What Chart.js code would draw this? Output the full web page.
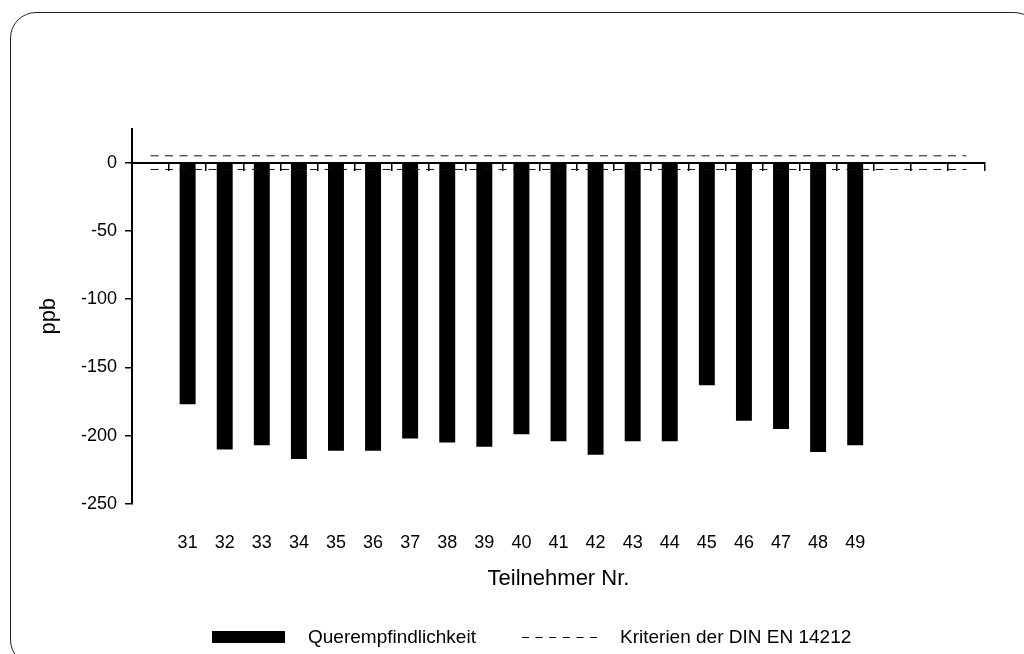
<!DOCTYPE html>
<html>
<head>
<meta charset="utf-8">
<script src="https://cdn.jsdelivr.net/npm/chart.js@4"></script>
<style>
  html, body { margin: 0; padding: 0; background: #fff; overflow: hidden; }
  #wrap { position: relative; width: 1024px; height: 654px; overflow: hidden; }
  #frame { position: absolute; left: 10px; top: 12px; width: 1030px; height: 654px;
           border: 1.5px solid #222; border-radius: 26px; box-sizing: border-box; }
  #legend { position: absolute; left: 0; top: 626px; width: 1024px; height: 24px;
            font: 19px "Liberation Sans", Arial, sans-serif; color: #000; }
  #legend .box { position: absolute; left: 212px; top: 5px; width: 73px; height: 12px; background: #000; }
  #legend .txt { position: absolute; top: 0; line-height: 22px; white-space: nowrap; }
  #legend svg { position: absolute; left: 522px; top: 5px; }
</style>
</head>
<body>
<div id="wrap">
  <canvas id="chart" width="1024" height="654"></canvas>
  <div id="frame"></div>
  <div id="legend">
    <span class="box"></span>
    <span class="txt" style="left:308px">Querempfindlichkeit</span>
    <svg width="76" height="12"><line x1="0" y1="6.5" x2="76" y2="6.5" stroke="#000" stroke-width="1" stroke-dasharray="7 6.6"/></svg>
    <span class="txt" style="left:620px">Kriterien der DIN EN 14212</span>
  </div>
</div>
<script>
Chart.defaults.color = "#000";
Chart.defaults.font.family = '"Liberation Sans", Arial, sans-serif';
Chart.defaults.font.size = 18;
Chart.defaults.animation = false;
Chart.defaults.responsive = false;
Chart.defaults.plugins.legend.display = false;
Chart.defaults.plugins.tooltip.enabled = false;

// Teilnehmer 31..49, Achse hat links einen und rechts drei leere Plätze
const teilnehmer = ["31", "32", "33", "34", "35", "36", "37", "38", "39", "40",
  "41", "42", "43", "44", "45", "46", "47", "48", "49"];
const querempfindlichkeit = [-177, -210, -207, -217, -211, -211, -202, -205, -208, -199,
  -204, -214, -204, -204, -163, -189, -195, -212, -207];
const kriteriumOben = [5, 5, 5, 5, 5, 5, 5, 5, 5, 5, 5, 5, 5, 5, 5, 5, 5, 5, 5, 5, 5, 5, 5];
const kriteriumUnten = [-5, -5, -5, -5, -5, -5, -5, -5, -5, -5, -5, -5, -5, -5, -5, -5, -5, -5, -5, -5, -5, -5, -5];
const yTicks = [0, -50, -100, -150, -200, -250];

const slots = ["", ...teilnehmer, "", "", ""];
const barData = [null, ...querempfindlichkeit, null, null, null];

const dashed = (data) => ({
  type: "line",
  label: "Kriterien der DIN EN 14212",
  data,
  borderColor: "#111",
  borderWidth: 1,
  borderDash: [8, 6.5],
  pointRadius: 0,
  fill: false,
  order: 1,
});

new Chart(document.getElementById("chart").getContext("2d"), {
  type: "bar",
  data: {
    labels: slots,
    datasets: [
      {
        label: "Querempfindlichkeit",
        data: barData,
        backgroundColor: "#000",
        barPercentage: 0.43,
        categoryPercentage: 1,
        order: 2,
      },
      dashed(kriteriumOben),
      dashed(kriteriumUnten),
    ],
  },
  options: {
    layout: { padding: { left: 32, right: 39, top: 128.5, bottom: 62 } },
    scales: {
      x: {
        type: "category",
        position: { y: 0 },
        offset: true,
        border: { color: "#000", width: 2 },
        grid: { drawOnChartArea: false, offset: true, tickLength: 7, color: "#000", lineWidth: 1.5 },
        ticks: { display: false },
      },
      xl: {
        type: "category",
        position: "bottom",
        offset: true,
        border: { display: false },
        grid: { display: false, offset: true },
        ticks: { padding: 20, maxRotation: 0, autoSkip: false },
        title: { display: true, text: "Teilnehmer Nr.", font: { size: 22 }, padding: 0 },
        afterFit: (s) => { s.height = 88; },
      },
      y: {
        min: -250,
        max: 25,
        border: { color: "#000", width: 2 },
        grid: { drawOnChartArea: false, tickLength: 7, color: "#000", lineWidth: 1.5 },
        ticks: { padding: 8 },
        afterBuildTicks: (s) => { s.ticks = yTicks.map((v) => ({ value: v })); },
        title: { display: true, text: "ppb", font: { size: 22 }, padding: { top: 4, bottom: 0 } },
        afterFit: (s) => { s.width = 100; },
      },
    },
  },
});
</script>
</body>
</html>
